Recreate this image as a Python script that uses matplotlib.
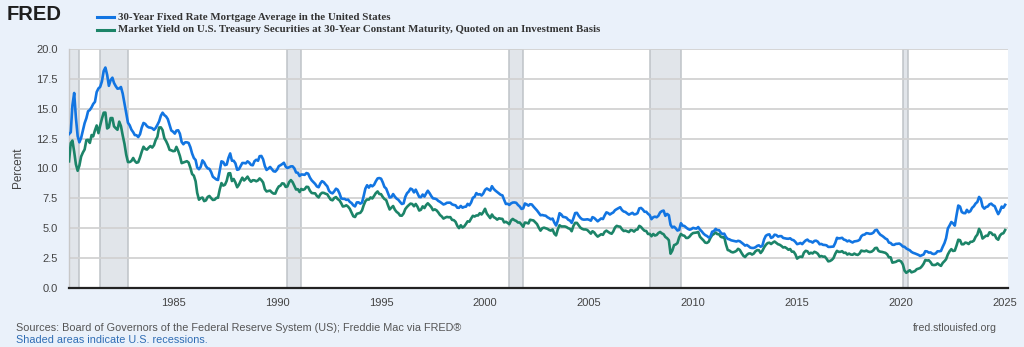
import matplotlib
matplotlib.use("Agg")
import matplotlib.pyplot as plt
import pandas as pd

# ---------------- data (monthly, Jan 1980 - Jan 2025) ----------------
mortgage_rate = [
    12.88, 13.04, 15.28, 16.32, 14.26, 12.71, 12.19, 12.56, 13.20, 13.79, 14.21, 14.79,
    14.90, 15.13, 15.40, 15.58, 16.40, 16.70, 16.83, 17.29, 18.16, 18.45, 17.83, 16.92,
    17.40, 17.60, 17.16, 16.89, 16.68, 16.70, 16.82, 16.27, 15.43, 14.61, 13.83, 13.62,
    13.25, 13.04, 12.80, 12.78, 12.63, 12.87, 13.42, 13.81, 13.73, 13.54, 13.44, 13.42,
    13.37, 13.23, 13.39, 13.65, 13.94, 14.42, 14.67, 14.47, 14.35, 14.13, 13.64, 13.18,
    13.08, 12.92, 13.17, 13.20, 12.91, 12.22, 12.03, 12.19, 12.19, 12.14, 11.78, 11.26,
    10.88, 10.71, 10.08, 9.94, 10.14, 10.68, 10.51, 10.20, 10.01, 9.97, 9.70, 9.31,
    9.20, 9.08, 9.04, 9.83, 10.60, 10.54, 10.28, 10.33, 10.89, 11.26, 10.65, 10.65,
    10.43, 9.89, 9.93, 10.20, 10.46, 10.46, 10.43, 10.60, 10.48, 10.30, 10.27, 10.61,
    10.73, 10.65, 11.03, 11.05, 10.77, 10.20, 9.88, 9.99, 10.13, 9.95, 9.77, 9.74,
    9.90, 10.20, 10.27, 10.37, 10.48, 10.16, 10.04, 10.10, 10.18, 10.18, 10.01, 9.67,
    9.64, 9.37, 9.50, 9.49, 9.47, 9.62, 9.57, 9.24, 9.01, 8.86, 8.71, 8.50,
    8.43, 8.76, 8.94, 8.85, 8.67, 8.51, 8.13, 7.98, 7.92, 8.09, 8.31, 8.22,
    7.92, 7.50, 7.46, 7.46, 7.37, 7.40, 7.21, 7.11, 6.92, 6.83, 7.16, 7.17,
    7.06, 7.15, 7.68, 8.32, 8.60, 8.40, 8.61, 8.51, 8.64, 8.93, 9.17, 9.20,
    9.15, 8.83, 8.46, 8.32, 7.96, 7.57, 7.61, 7.86, 7.64, 7.48, 7.38, 7.20,
    7.03, 7.08, 7.62, 7.93, 8.07, 8.32, 8.25, 8.00, 8.23, 7.92, 7.62, 7.60,
    7.82, 7.65, 7.90, 8.14, 7.94, 7.69, 7.50, 7.48, 7.43, 7.29, 7.21, 7.10,
    6.99, 7.04, 7.13, 7.14, 7.14, 7.00, 6.95, 6.92, 6.72, 6.71, 6.87, 6.72,
    6.79, 6.81, 7.04, 6.92, 7.15, 7.55, 7.63, 7.94, 7.82, 7.85, 7.74, 7.91,
    8.21, 8.33, 8.24, 8.15, 8.52, 8.29, 8.15, 8.03, 7.91, 7.80, 7.75, 7.38,
    7.03, 7.05, 6.95, 7.08, 7.15, 7.16, 7.13, 6.95, 6.82, 6.62, 6.66, 7.07,
    7.00, 6.89, 7.01, 6.99, 6.81, 6.65, 6.49, 6.29, 6.09, 6.11, 6.07, 6.05,
    5.92, 5.84, 5.75, 5.81, 5.48, 5.23, 5.63, 6.26, 6.15, 5.95, 5.93, 5.88,
    5.71, 5.64, 5.45, 5.83, 6.27, 6.29, 6.06, 5.87, 5.75, 5.72, 5.73, 5.75,
    5.71, 5.63, 5.93, 5.86, 5.72, 5.58, 5.70, 5.82, 5.77, 6.07, 6.33, 6.27,
    6.15, 6.25, 6.32, 6.51, 6.60, 6.68, 6.76, 6.52, 6.40, 6.36, 6.24, 6.14,
    6.22, 6.29, 6.16, 6.18, 6.26, 6.66, 6.70, 6.57, 6.38, 6.38, 6.21, 6.10,
    5.76, 5.92, 5.97, 5.92, 6.04, 6.32, 6.43, 6.48, 6.04, 6.20, 6.09, 5.29,
    5.06, 5.13, 5.00, 4.81, 4.86, 5.42, 5.22, 5.19, 5.06, 4.95, 4.88, 4.93,
    5.03, 4.99, 4.97, 5.10, 4.89, 4.74, 4.56, 4.43, 4.35, 4.23, 4.30, 4.71,
    4.76, 4.95, 4.84, 4.84, 4.64, 4.51, 4.55, 4.27, 4.11, 4.07, 3.99, 3.96,
    3.92, 3.89, 3.95, 3.91, 3.80, 3.68, 3.55, 3.60, 3.50, 3.38, 3.35, 3.35,
    3.41, 3.53, 3.57, 3.45, 3.54, 4.07, 4.37, 4.46, 4.49, 4.19, 4.26, 4.46,
    4.43, 4.30, 4.34, 4.34, 4.19, 4.16, 4.13, 4.12, 4.16, 4.04, 4.00, 3.86,
    3.67, 3.71, 3.77, 3.67, 3.84, 3.98, 4.05, 3.91, 3.89, 3.80, 3.94, 3.96,
    3.87, 3.66, 3.69, 3.61, 3.60, 3.57, 3.44, 3.44, 3.46, 3.47, 3.77, 4.20,
    4.15, 4.17, 4.20, 4.05, 4.01, 3.90, 3.97, 3.88, 3.81, 3.90, 3.92, 3.95,
    4.03, 4.33, 4.44, 4.47, 4.59, 4.57, 4.53, 4.55, 4.63, 4.83, 4.87, 4.64,
    4.46, 4.37, 4.27, 4.14, 4.07, 3.80, 3.77, 3.62, 3.61, 3.69, 3.70, 3.72,
    3.62, 3.47, 3.45, 3.31, 3.23, 3.16, 3.02, 2.94, 2.89, 2.83, 2.77, 2.68,
    2.74, 2.81, 3.08, 3.06, 2.96, 2.98, 2.87, 2.84, 2.90, 3.07, 3.07, 3.10,
    3.45, 3.76, 4.17, 4.98, 5.23, 5.52, 5.41, 5.22, 6.11, 6.90, 6.81, 6.36,
    6.27, 6.26, 6.54, 6.34, 6.43, 6.71, 6.84, 7.07, 7.20, 7.62, 7.44, 6.82,
    6.64, 6.78, 6.82, 7.00, 7.06, 6.92, 6.85, 6.50, 6.18, 6.43, 6.81, 6.72,
    6.96,
]

treasury_30y = [
    10.60, 12.13, 12.34, 11.40, 10.36, 9.81, 10.24, 11.00, 11.34, 11.59, 12.37, 12.40,
    12.14, 12.80, 12.69, 13.20, 13.60, 12.96, 13.59, 14.17, 14.67, 14.68, 13.35, 13.45,
    14.22, 14.22, 13.53, 13.37, 13.24, 13.92, 13.55, 12.77, 12.07, 11.17, 10.54, 10.54,
    10.63, 10.88, 10.63, 10.48, 10.53, 10.93, 11.40, 11.82, 11.63, 11.58, 11.75, 11.88,
    11.75, 11.95, 12.38, 12.65, 13.43, 13.44, 13.21, 12.54, 12.29, 11.98, 11.56, 11.52,
    11.45, 11.47, 11.81, 11.47, 11.05, 10.45, 10.50, 10.56, 10.61, 10.50, 10.06, 9.54,
    9.40, 8.93, 7.96, 7.39, 7.52, 7.57, 7.27, 7.33, 7.62, 7.70, 7.52, 7.37,
    7.39, 7.54, 7.55, 8.25, 8.78, 8.57, 8.64, 8.97, 9.59, 9.61, 8.95, 9.12,
    8.83, 8.43, 8.63, 8.95, 9.23, 9.00, 9.14, 9.32, 9.06, 8.89, 9.02, 9.01,
    8.93, 9.01, 9.17, 9.03, 8.83, 8.27, 8.08, 8.12, 8.15, 8.00, 7.90, 7.90,
    8.26, 8.50, 8.56, 8.76, 8.73, 8.46, 8.50, 8.86, 9.03, 8.86, 8.54, 8.24,
    8.27, 8.03, 8.29, 8.21, 8.27, 8.47, 8.45, 8.14, 7.95, 7.93, 7.92, 7.70,
    7.58, 7.85, 7.97, 7.96, 7.89, 7.84, 7.60, 7.39, 7.34, 7.53, 7.61, 7.44,
    7.34, 7.09, 6.82, 6.85, 6.92, 6.81, 6.63, 6.32, 6.00, 5.94, 6.21, 6.25,
    6.29, 6.49, 6.91, 7.27, 7.41, 7.40, 7.58, 7.49, 7.71, 7.94, 8.08, 7.87,
    7.85, 7.61, 7.45, 7.36, 6.95, 6.57, 6.72, 6.86, 6.55, 6.37, 6.26, 6.06,
    6.05, 6.24, 6.60, 6.79, 6.93, 7.06, 7.03, 6.84, 7.03, 6.81, 6.48, 6.55,
    6.83, 6.69, 6.93, 7.09, 6.94, 6.77, 6.51, 6.58, 6.50, 6.33, 6.11, 5.99,
    5.81, 5.89, 5.95, 5.92, 5.93, 5.70, 5.68, 5.54, 5.20, 5.01, 5.25, 5.06,
    5.16, 5.37, 5.58, 5.55, 5.81, 6.04, 5.98, 6.07, 6.07, 6.26, 6.15, 6.35,
    6.63, 6.23, 6.05, 5.85, 6.15, 5.93, 5.85, 5.72, 5.83, 5.80, 5.78, 5.49,
    5.54, 5.45, 5.34, 5.65, 5.78, 5.67, 5.61, 5.48, 5.48, 5.32, 5.12, 5.48,
    5.45, 5.40, 5.71, 5.68, 5.65, 5.50, 5.35, 5.05, 4.80, 5.00, 5.05, 5.00,
    4.95, 4.85, 4.80, 4.90, 4.55, 4.40, 4.90, 5.25, 5.15, 5.15, 5.15, 5.10,
    5.00, 4.95, 4.75, 5.20, 5.45, 5.45, 5.25, 5.05, 4.95, 4.90, 4.90, 4.85,
    4.70, 4.55, 4.75, 4.65, 4.45, 4.30, 4.40, 4.50, 4.45, 4.70, 4.80, 4.70,
    4.60, 4.54, 4.73, 5.06, 5.20, 5.15, 5.13, 4.91, 4.77, 4.80, 4.74, 4.68,
    4.85, 4.82, 4.72, 4.87, 4.90, 5.20, 5.11, 4.93, 4.79, 4.77, 4.52, 4.53,
    4.33, 4.52, 4.39, 4.44, 4.60, 4.69, 4.57, 4.50, 4.27, 4.17, 4.00, 2.87,
    3.13, 3.59, 3.64, 3.76, 4.23, 4.52, 4.41, 4.37, 4.19, 4.19, 4.31, 4.49,
    4.60, 4.62, 4.64, 4.69, 4.29, 4.13, 3.99, 3.80, 3.77, 3.87, 4.19, 4.42,
    4.52, 4.65, 4.51, 4.50, 4.29, 4.23, 4.27, 3.65, 3.18, 3.13, 3.02, 2.98,
    3.03, 3.11, 3.28, 3.18, 2.93, 2.70, 2.59, 2.77, 2.88, 2.90, 2.80, 2.88,
    3.08, 3.17, 3.16, 2.93, 3.11, 3.40, 3.61, 3.76, 3.79, 3.68, 3.80, 3.89,
    3.77, 3.66, 3.62, 3.52, 3.39, 3.42, 3.33, 3.20, 3.26, 3.04, 3.04, 2.83,
    2.46, 2.57, 2.63, 2.59, 2.96, 3.11, 3.07, 2.86, 2.95, 2.89, 3.03, 2.97,
    2.86, 2.62, 2.68, 2.62, 2.63, 2.45, 2.23, 2.26, 2.35, 2.50, 2.86, 3.11,
    3.02, 3.03, 3.08, 2.94, 2.96, 2.80, 2.88, 2.80, 2.78, 2.88, 2.80, 2.77,
    2.88, 3.13, 3.09, 3.07, 3.13, 3.05, 3.01, 3.04, 3.15, 3.34, 3.36, 3.10,
    3.04, 3.02, 2.98, 2.94, 2.82, 2.57, 2.57, 2.12, 2.16, 2.19, 2.28, 2.30,
    2.22, 1.97, 1.46, 1.27, 1.38, 1.49, 1.31, 1.36, 1.42, 1.57, 1.62, 1.67,
    1.82, 2.04, 2.34, 2.30, 2.32, 2.16, 1.94, 1.92, 1.94, 2.06, 1.94, 1.85,
    2.10, 2.25, 2.41, 2.81, 3.07, 3.25, 3.10, 3.13, 3.56, 4.04, 4.00, 3.66,
    3.66, 3.80, 3.77, 3.68, 3.86, 3.87, 3.96, 4.28, 4.47, 4.95, 4.66, 4.14,
    4.26, 4.38, 4.36, 4.66, 4.62, 4.44, 4.46, 4.15, 4.04, 4.38, 4.54, 4.58,
    4.85,
]

start_month = "1980-01-01"
recession_starts = ["1980-01-01", "1981-07-01", "1990-07-01", "2001-03-01", "2007-12-01", "2020-02-01"]
recession_ends   = ["1980-07-01", "1982-11-01", "1991-03-01", "2001-11-01", "2009-06-01", "2020-04-30"]
y_ticks = [0.0, 2.5, 5.0, 7.5, 10.0, 12.5, 15.0, 17.5, 20.0]
x_tick_years = [1985, 1990, 1995, 2000, 2005, 2010, 2015, 2020, 2025]

series_names = [
    "30-Year Fixed Rate Mortgage Average in the United States",
    "Market Yield on U.S. Treasury Securities at 30-Year Constant Maturity, Quoted on an Investment Basis",
]

# ---------------- figure ----------------
W, H, DPI = 1024, 347, 100
BG = "#eaf1fa"
BLUE = "#1275e2"
GREEN = "#1c8468"

fig = plt.figure(figsize=(W / DPI, H / DPI), dpi=DPI, facecolor=BG)
L, R, T, B = 69, 1008, 49, 288
ax = fig.add_axes([L / W, 1 - B / H, (R - L) / W, (B - T) / H])
ax.set_facecolor("white")

dates_m = pd.date_range(start_month, periods=len(mortgage_rate), freq="MS")
dates_t = pd.date_range(start_month, periods=len(treasury_30y), freq="MS")

for s, e in zip(recession_starts, recession_ends):
    ax.axvspan(pd.Timestamp(s), pd.Timestamp(e), facecolor="#e1e5ea", edgecolor="#bfc3c7",
               linewidth=1.1, zorder=1)

for yv in y_ticks:
    ax.axhline(yv, color="#d2d2d2", lw=1.3, zorder=2)

ax.plot(dates_t, treasury_30y, color=GREEN, lw=1.9, zorder=4, solid_joinstyle="round")
ax.plot(dates_m, mortgage_rate, color=BLUE, lw=1.9, zorder=5, solid_joinstyle="round")

ax.set_xlim(pd.Timestamp("1980-01-01"), pd.Timestamp("2025-02-20"))
ax.set_ylim(0, 20)
ax.set_yticks(y_ticks)
ax.set_yticklabels([f"{v:.1f}" for v in y_ticks])
ax.set_xticks([pd.Timestamp(f"{y}-01-01") for y in x_tick_years])
ax.set_xticklabels([str(y) for y in x_tick_years])
ax.tick_params(axis="both", length=0, labelsize=8, labelcolor="#444444",
               labelfontfamily="Liberation Sans")
ax.tick_params(axis="y", pad=8)
ax.tick_params(axis="x", pad=7)

for side in ["top", "right"]:
    ax.spines[side].set_visible(False)
ax.spines["left"].set_color("#c8c8c8")
ax.spines["left"].set_linewidth(1.0)
ax.spines["bottom"].set_color("#222222")
ax.spines["bottom"].set_linewidth(1.6)
ax.spines["bottom"].set_zorder(6)

fig.text(18 / W, 1 - 168 / H, "Percent", rotation=90, ha="center", va="center",
         fontsize=8.5, color="#444444", family="Liberation Sans")

# ---------------- header ----------------
fig.text(7 / W, 1 - 15 / H, "FRED", ha="left", va="center", fontsize=14.5,
         fontweight="bold", color="#1e1e1e", family="Liberation Sans")

renderer = fig.canvas.get_renderer()


def fit_text(x, y, s, target_w, base_fs, **kw):
    t = fig.text(x / W, 1 - y / H, s, fontsize=base_fs, **kw)
    w = t.get_window_extent(renderer=renderer).width
    t.set_fontsize(base_fs * target_w / w)
    return t


legend_y = [17, 30]
legend_w = [270, 478]
for name, col, yy, tw in zip(series_names, [BLUE, GREEN], legend_y, legend_w):
    fig.add_artist(plt.Line2D([97 / W, 114 / W], [1 - yy / H, 1 - yy / H], color=col, lw=2.2))
    fit_text(118, yy, name, tw, 7.5, ha="left", va="center", color="#333333",
             family="Liberation Serif", fontweight="bold")

# ---------------- footer ----------------
fit_text(16, 328, "Sources: Board of Governors of the Federal Reserve System (US); Freddie Mac via FRED\u00ae",
         444, 7.6, ha="left", va="center", color="#555555", family="Liberation Sans")
fit_text(16, 340, "Shaded areas indicate U.S. recessions.", 190, 7.6, ha="left", va="center",
         color="#2f6db5", family="Liberation Sans")
fig.text(997 / W, 1 - 328 / H, "fred.stlouisfed.org", ha="right", va="center",
         fontsize=7.6, color="#555555", family="Liberation Sans")

fig.savefig("out.png", dpi=DPI, facecolor=BG)
